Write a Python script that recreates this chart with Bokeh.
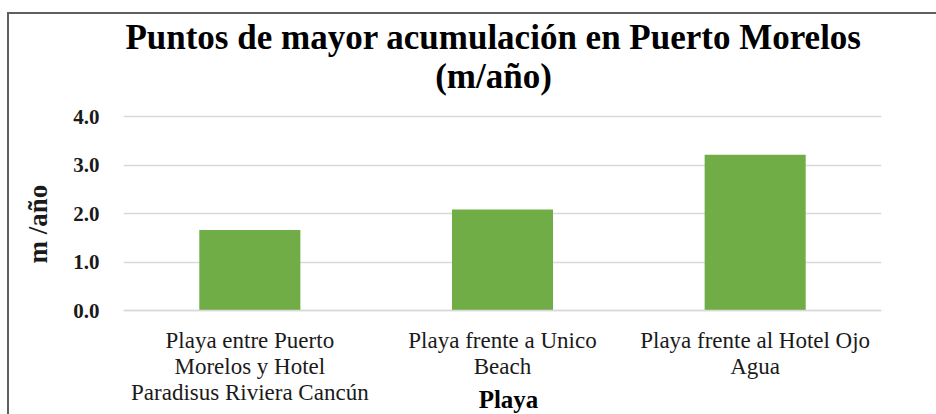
from bokeh.plotting import figure
from bokeh.models import Label, Title, FixedTicker, Range1d
from bokeh.embed import file_html
from bokeh.resources import INLINE

# ---- data ----
categories = [
    "Playa entre Puerto\nMorelos y Hotel\nParadisus Riviera Cancún",
    "Playa frente a Unico\nBeach",
    "Playa frente al Hotel Ojo\nAgua",
]
values = [1.66, 2.08, 3.21]
y_ticks = [0, 1, 2, 3, 4]
y_tick_labels = ["0.0", "1.0", "2.0", "3.0", "4.0"]
title_lines = ["Puntos de mayor acumulación en Puerto Morelos", "(m/año)"]
x_title = "Playa"
y_title = "m /año"

SERIF = "Liberation Serif"
W, H = 936, 414
FL, FR = 123, 881          # frame left / right (canvas px)
PY_TOP, PY_ZERO = 116, 310  # pixel rows of the top tick and of zero
PX_PER_UNIT = (PY_ZERO - PY_TOP) / (y_ticks[-1] - y_ticks[0])

# frame spans the full height; the value axis maps so that ticks land on the wanted rows
y_start = y_ticks[0] - (H - PY_ZERO) / PX_PER_UNIT
y_end = y_ticks[-1] + PY_TOP / PX_PER_UNIT

p = figure(
    x_range=categories,
    y_range=Range1d(y_start, y_end),
    width=W, height=H,
    output_backend="svg",
    toolbar_location=None,
    title=None,
    min_border_left=FL, min_border_right=W - FR,
    min_border_top=0, min_border_bottom=0,
)
p.outline_line_color = None
p.background_fill_color = None
p.border_fill_color = None
# chart-area border (top and left edges visible in the window)
p.styles = {
    "background": (
        "linear-gradient(#5f5f5f,#5f5f5f) 7px 12px / 2px 2000px no-repeat,"
        "linear-gradient(#5f5f5f,#5f5f5f) 7px 12px / 2000px 2px no-repeat,"
        "#ffffff"
    )
}

p.vbar(x=categories, top=values, width=0.4, fill_color="#70AD47", line_color=None)

# value axis
p.yaxis.ticker = FixedTicker(ticks=y_ticks)
p.yaxis.major_label_overrides = {t: l for t, l in zip(y_ticks, y_tick_labels)}
p.yaxis.axis_line_color = None
p.yaxis.major_tick_line_color = None
p.yaxis.minor_tick_line_color = None
p.yaxis.major_label_text_font = SERIF
p.yaxis.major_label_text_font_style = "bold"
p.yaxis.major_label_text_font_size = "21px"
p.yaxis.major_label_text_color = "#1a1a1a"
p.yaxis.major_label_standoff = 18

# vertical axis title: starts 151px above the canvas bottom (row 263) and reads upward
p.add_layout(Title(text=y_title, align="left", offset=H - 263, standoff=35,
                   text_font=SERIF, text_font_style="bold", text_font_size="27px",
                   text_color="#1a1a1a"), "left")

# category axis placed at zero
p.xaxis.fixed_location = 0
p.xaxis.axis_line_color = "#d9d9d9"
p.xaxis.axis_line_width = 1.5
p.xaxis.major_tick_line_color = None
p.xaxis.minor_tick_line_color = None
p.xaxis.major_label_text_font = SERIF
p.xaxis.major_label_text_font_size = "23px"
p.xaxis.major_label_text_line_height = 1.05
p.xaxis.major_label_text_color = "#1a1a1a"
p.xaxis.major_label_standoff = 11
p.xaxis.major_label_orientation = "horizontal"

p.xgrid.grid_line_color = None
p.ygrid.grid_line_color = "#d9d9d9"
p.ygrid.grid_line_width = 1.5

# titles (screen units measured from the frame's bottom-left corner)
def screen_label(cx, baseline, text, size):
    return Label(x=cx - FL, y=H - baseline, x_units="screen", y_units="screen",
                 text=text, text_align="center", text_baseline="alphabetic",
                 text_font=SERIF, text_font_style="bold", text_font_size=size,
                 text_color="#000000")

p.add_layout(screen_label(493, 37, title_lines[0], "35px"))
p.add_layout(screen_label(493, 76, title_lines[1], "35px"))
p.add_layout(screen_label(508, 399, x_title, "25px"))

open("out.html", "w").write(file_html(p, INLINE))
